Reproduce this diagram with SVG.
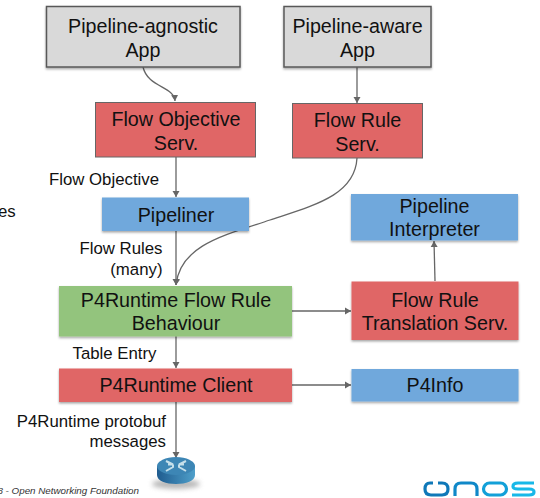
<svg xmlns="http://www.w3.org/2000/svg" width="540" height="498" viewBox="0 0 540 498">
<style>
text{font-family:"Liberation Sans",Arial,sans-serif;fill:#111;text-anchor:middle}
.n{font-size:19.700px}
.l{font-size:16.800px}
.e{text-anchor:end}
.c{fill:none;stroke:#666;stroke-width:1.300;marker-end:url(#a)}
.sh{filter:url(#s)}
.g{fill:#d9d9d9;stroke:#595959;stroke-width:1.500}
.r{fill:#e06666;stroke:#666;stroke-width:1}
.r2{fill:#e06666}
.b{fill:#6fa8dc}
.gr{fill:#93c47d}
</style>
<defs>
<filter id="s" x="-5%" y="-5%" width="110%" height="120%"><feDropShadow dx="0" dy="1.500" stdDeviation="1" flood-color="#000" flood-opacity=".35"/></filter>
<filter id="bl" x="-30%" y="-100%" width="160%" height="300%"><feGaussianBlur stdDeviation="2.500"/></filter>
<marker id="a" markerWidth="7" markerHeight="8" refX="6" refY="4" orient="auto" markerUnits="userSpaceOnUse"><path d="M0 .5L6 4L0 7.500z" fill="#666"/></marker>
<linearGradient id="rt" x1="0" x2="1" y1="0" y2="0"><stop offset="0" stop-color="#1f5c8f"/><stop offset="1" stop-color="#4f9fca"/></linearGradient>
</defs>
<text class="l" x="-2" y="217" style="text-anchor:start" id="clip-es">es</text>
<g id="connectors">
<path class="c" d="M143 67C148 88 174 86 175 101"/>
<path class="c" d="M357 67V103"/>
<path class="c" d="M176 157V197"/>
<path class="c" d="M176 231V285"/>
<path class="c" d="M357 158C355 195 315 205 270 220C225 235 180 245 176 285"/>
<path class="c" d="M292 311H351"/>
<path class="c" d="M435 281L434 241"/>
<path class="c" d="M176 336V368"/>
<path class="c" d="M176 402V458"/>
<path class="c" d="M292 385H351"/>
</g>
<g id="app-agnostic"><rect class="g sh" x="46.500" y="6.500" width="193.500" height="60.500"/><text class="n" x="143" y="33">Pipeline-agnostic</text><text class="n" x="143" y="57">App</text></g>
<g id="app-aware"><rect class="g sh" x="284" y="6.500" width="147" height="60.500"/><text class="n" x="357.500" y="33">Pipeline-aware</text><text class="n" x="357.500" y="57">App</text></g>
<g id="flow-objective"><rect class="r" x="95.500" y="102.500" width="160" height="54.500"/><text class="n" x="176" y="126">Flow Objective</text><text class="n" x="176" y="150">Serv.</text></g>
<g id="flow-rule"><rect class="r" x="292.500" y="103.500" width="130" height="54.500"/><text class="n" x="357.500" y="127">Flow Rule</text><text class="n" x="357.500" y="150.500">Serv.</text></g>
<g id="pipeliner"><rect class="b sh" x="102" y="197.500" width="147" height="33.500"/><text class="n" x="176" y="221.500">Pipeliner</text></g>
<g id="interpreter"><rect class="b sh" x="351" y="194" width="167" height="46.500"/><text class="n" x="434.500" y="213">Pipeline</text><text class="n" x="434.500" y="236">Interpreter</text></g>
<g id="behaviour"><rect class="gr sh" x="59" y="286" width="233" height="50.500"/><text class="n" x="176" y="307">P4Runtime Flow Rule</text><text class="n" x="176" y="330">Behaviour</text></g>
<g id="translation"><rect class="r2 sh" x="351.500" y="281.500" width="167" height="58.500"/><text class="n" x="435" y="307">Flow Rule</text><text class="n" x="435" y="330">Translation Serv.</text></g>
<g id="client"><rect class="r2 sh" x="59" y="368.500" width="233" height="33.500"/><text class="n" x="176" y="392">P4Runtime Client</text></g>
<g id="p4info"><rect class="b sh" x="351.500" y="369" width="167" height="32.500"/><text class="n" x="435" y="392">P4Info</text></g>
<g id="labels">
<text class="l" x="104" y="185">Flow Objective</text>
<text class="l e" x="162.500" y="254">Flow Rules</text>
<text class="l e" x="162.500" y="275">(many)</text>
<text class="l" x="114.500" y="359">Table Entry</text>
<text class="l e" x="166" y="427">P4Runtime protobuf</text>
<text class="l e" x="166" y="447">messages</text>
<text x="139" y="494" style="font-size:9.800px;font-style:italic;text-anchor:end;fill:#333">8 - Open Networking Foundation</text>
</g>
<g id="router">
<ellipse cx="176" cy="484" rx="24" ry="5" fill="#888" opacity=".6" filter="url(#bl)"/>
<path d="M157 466V475C157 481 166 484 176 484C186 484 195 481 195 475V466z" fill="url(#rt)"/>
<ellipse cx="176" cy="466" rx="19" ry="9" fill="#3d86b5"/>
<path d="M166 461L173 464.500H168M173 464.500V467L166 471M186 461L179 464.500H184M179 464.500V467L186 471" fill="none" stroke="#c5dfea" stroke-width="2"/>
</g>
<g id="onos-logo" fill="none" stroke-width="3.200">
<path d="M433 483H430Q425 483 425 489Q425 495 431 495H442Q448 495 448 489Q448 483 442 483H438" stroke="#0f78b8"/>
<path d="M455 496V489Q455 483 461 483H471Q477 483 477 489V496" stroke="#1088c8"/>
<rect x="483.500" y="483" width="23" height="12" rx="6" stroke="#12a0d8"/>
<path d="M534 483H518Q513 483 513 486.500Q513 489 518 489H529Q534 489 534 492Q534 495 529 495H512" stroke="#18b8e8"/>
</g>
</svg>
